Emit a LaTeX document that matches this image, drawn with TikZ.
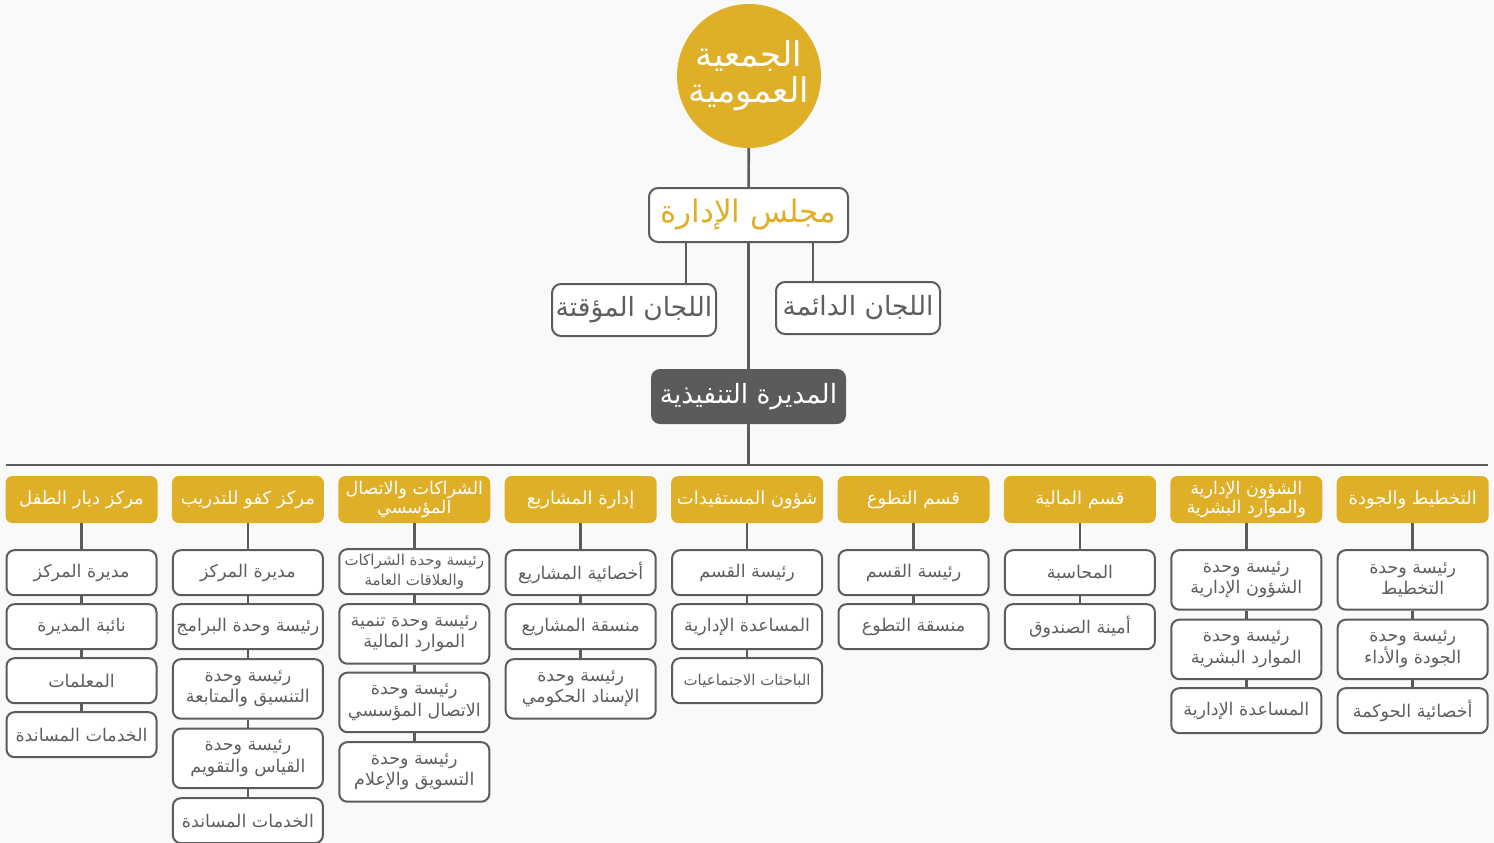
\documentclass[tikz,border=0pt]{standalone}
\usepackage{fontspec}
\newfontfamily\arabicfont[Script=Arabic]{DejaVu Sans}
\TeXXeTstate=1
\usepackage{tikz}
\usetikzlibrary{positioning}
\definecolor{gold}{HTML}{E0AF28}
\definecolor{slate}{HTML}{5A5B5D}
\definecolor{frame}{HTML}{5C5C5C}
\definecolor{paper}{HTML}{F9F9F9}
\definecolor{ink}{HTML}{5E5E60}
\newcommand{\rtltext}[1]{\beginR#1\endR}
\tikzstyle{dept} = [fill=gold, rounded corners=7pt, minimum width=152pt, minimum height=47pt, inner sep=1pt, text=white, align=center, font=\arabicfont\fontsize{18}{21}\selectfont]
\tikzstyle{depttall} = [dept, font=\arabicfont\fontsize{17.5}{19.5}\selectfont]
\tikzstyle{unit} = [draw=frame, line width=2pt, fill=white, rounded corners=8pt, minimum width=150pt, minimum height=45pt, inner sep=1pt, text=ink, align=center, font=\arabicfont\fontsize{17.5}{21.5}\selectfont]
\tikzstyle{unittall} = [unit, minimum height=59.5pt]
\tikzstyle{unitsmall} = [unit, font=\arabicfont\fontsize{15}{20}\selectfont]
\tikzstyle{link} = [draw=slate, line width=2.6pt]

\begin{document}
\begin{tikzpicture}[x=1pt, y=1pt]
		\fill [paper] (0,0) rectangle (1494,-843);
		\useasboundingbox (0,0) rectangle (1494,-843);

		% top of the chart
		\node [circle, fill=gold, minimum size=144pt, inner sep=0pt, text=white, align=center, font=\arabicfont\fontsize{34}{36}\selectfont] (assembly) at (749,-76) {\rtltext{الجمعية}\\\rtltext{العمومية}};
		\node [draw=frame, line width=2pt, fill=white, rounded corners=9pt, minimum width=199pt, minimum height=54pt, text=gold, font=\arabicfont\fontsize{31}{34}\selectfont] (board) at (748.5,-215) {\rtltext{مجلس الإدارة}};
		\node [draw=frame, line width=2pt, fill=white, rounded corners=9pt, minimum width=164pt, minimum height=52pt, text=ink, font=\arabicfont\fontsize{26.5}{30}\selectfont] (temp) at (634,-310) {\rtltext{اللجان المؤقتة}};
		\node [draw=frame, line width=2pt, fill=white, rounded corners=9pt, minimum width=164pt, minimum height=52pt, text=ink, font=\arabicfont\fontsize{26.5}{30}\selectfont] (perm) at (858,-308) {\rtltext{اللجان الدائمة}};
		\node [fill=slate, rounded corners=9pt, minimum width=195pt, minimum height=55pt, text=white, font=\arabicfont\fontsize{26.5}{30}\selectfont] (exec) at (748.5,-396.5) {\rtltext{المديرة التنفيذية}};
		\coordinate (tempjoin) at (686,-243);
		\coordinate (permjoin) at (813,-243);
		\coordinate (barL) at (6,-465);
		\coordinate (barR) at (1488,-465);

		\draw [link] (assembly) -- (board);
		\draw [link] (board) -- (exec);
		\draw [link] (tempjoin) -- (tempjoin |- temp.north);
		\draw [link] (permjoin) -- (permjoin |- perm.north);
		\draw [link] (exec) -- (exec |- barL);
		\draw [link] (barL) -- (barR);

		% departments
		\node [dept] (diyar) at (81.5,-499.5) {\rtltext{مركز ديار الطفل}};
		\node [dept, right=14pt of diyar] (kafu) {\rtltext{مركز كفو للتدريب}};
		\node [depttall, right=14pt of kafu] (part) {\rtltext{الشراكات والاتصال}\\\rtltext{المؤسسي}};
		\node [dept, right=14pt of part] (proj) {\rtltext{إدارة المشاريع}};
		\node [dept, right=14pt of proj] (benf) {\rtltext{شؤون المستفيدات}};
		\node [dept, right=14pt of benf] (volu) {\rtltext{قسم التطوع}};
		\node [dept, right=14pt of volu] (fin) {\rtltext{قسم المالية}};
		\node [depttall, right=14pt of fin] (admin) {\rtltext{الشؤون الإدارية}\\\rtltext{والموارد البشرية}};
		\node [dept, right=14pt of admin] (plan) {\rtltext{التخطيط والجودة}};

		% units
		\node [unit, below=26pt of diyar] (diyar1) {\rtltext{مديرة المركز}};
		\node [unit, below=7pt of diyar1] (diyar2) {\rtltext{نائبة المديرة}};
		\node [unit, below=7pt of diyar2] (diyar3) {\rtltext{المعلمات}};
		\node [unit, below=7pt of diyar3] (diyar4) {\rtltext{الخدمات المساندة}};

		\node [unit, below=26pt of kafu] (kafu1) {\rtltext{مديرة المركز}};
		\node [unit, below=7pt of kafu1] (kafu2) {\rtltext{رئيسة وحدة البرامج}};
		\node [unittall, below=8pt of kafu2] (kafu3) {\rtltext{رئيسة وحدة}\\\rtltext{التنسيق والمتابعة}};
		\node [unittall, below=8pt of kafu3] (kafu4) {\rtltext{رئيسة وحدة}\\\rtltext{القياس والتقويم}};
		\node [unit, below=8pt of kafu4] (kafu5) {\rtltext{الخدمات المساندة}};

		\node [unittall, unitsmall, below=25pt of part] (part1) {\rtltext{رئيسة وحدة الشراكات}\\\rtltext{والعلاقات العامة}};
		\node [unittall, below=8pt of part1] (part2) {\rtltext{رئيسة وحدة تنمية}\\\rtltext{الموارد المالية}};
		\node [unittall, below=7pt of part2] (part3) {\rtltext{رئيسة وحدة}\\\rtltext{الاتصال المؤسسي}};
		\node [unittall, below=8pt of part3] (part4) {\rtltext{رئيسة وحدة}\\\rtltext{التسويق والإعلام}};

		\node [unit, below=26pt of proj] (proj1) {\rtltext{أخصائية المشاريع}};
		\node [unit, below=7pt of proj1] (proj2) {\rtltext{منسقة المشاريع}};
		\node [unittall, below=8pt of proj2] (proj3) {\rtltext{رئيسة وحدة}\\\rtltext{الإسناد الحكومي}};

		\node [unit, below=26pt of benf] (benf1) {\rtltext{رئيسة القسم}};
		\node [unit, below=7pt of benf1] (benf2) {\rtltext{المساعدة الإدارية}};
		\node [unitsmall, below=7pt of benf2] (benf3) {\rtltext{الباحثات الاجتماعيات}};

		\node [unit, below=26pt of volu] (volu1) {\rtltext{رئيسة القسم}};
		\node [unit, below=7pt of volu1] (volu2) {\rtltext{منسقة التطوع}};

		\node [unit, below=26pt of fin] (fin1) {\rtltext{المحاسبة}};
		\node [unit, below=7pt of fin1] (fin2) {\rtltext{أمينة الصندوق}};

		\node [unittall, below=26pt of admin] (admin1) {\rtltext{رئيسة وحدة}\\\rtltext{الشؤون الإدارية}};
		\node [unittall, below=8pt of admin1] (admin2) {\rtltext{رئيسة وحدة}\\\rtltext{الموارد البشرية}};
		\node [unit, below=7pt of admin2] (admin3) {\rtltext{المساعدة الإدارية}};

		\node [unittall, below=26pt of plan] (plan1) {\rtltext{رئيسة وحدة}\\\rtltext{التخطيط}};
		\node [unittall, below=8pt of plan1] (plan2) {\rtltext{رئيسة وحدة}\\\rtltext{الجودة والأداء}};
		\node [unit, below=7pt of plan2] (plan3) {\rtltext{أخصائية الحوكمة}};

		\draw [link] (diyar) -- (diyar1) -- (diyar2) -- (diyar3) -- (diyar4);
		\draw [link] (kafu) -- (kafu1) -- (kafu2) -- (kafu3) -- (kafu4) -- (kafu5);
		\draw [link] (part) -- (part1) -- (part2) -- (part3) -- (part4);
		\draw [link] (proj) -- (proj1) -- (proj2) -- (proj3);
		\draw [link] (benf) -- (benf1) -- (benf2) -- (benf3);
		\draw [link] (volu) -- (volu1) -- (volu2);
		\draw [link] (fin) -- (fin1) -- (fin2);
		\draw [link] (admin) -- (admin1) -- (admin2) -- (admin3);
		\draw [link] (plan) -- (plan1) -- (plan2) -- (plan3);
	\end{tikzpicture}
\end{document}
